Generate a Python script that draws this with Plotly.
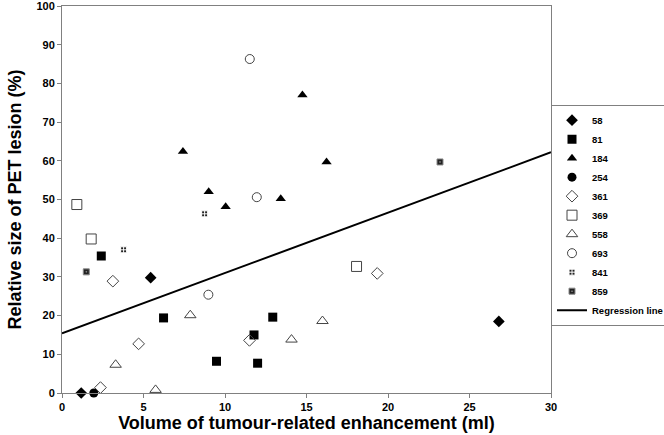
"""Relative size of PET lesion versus volume of tumour-related enhancement."""

import plotly.graph_objects as go

# values (x: ml, y: %)
s58_x = [1.18, 5.44, 26.8]
s58_y = [0.0, 29.8, 18.5]
s81_x = [2.41, 6.23, 9.48, 11.78, 12.0, 12.93]
s81_y = [35.4, 19.4, 8.2, 15.0, 7.7, 19.6]
s184_x = [7.42, 9.0, 10.04, 13.42, 14.75, 16.23]
s184_y = [62.4, 52.0, 48.1, 50.2, 77.0, 59.7]
s254_x = [1.95]
s254_y = [0.0]
s361_x = [2.36, 3.12, 4.70, 11.5, 19.34]
s361_y = [1.4, 28.9, 12.7, 13.6, 30.9]
s369_x = [0.91, 1.79, 18.07]
s369_y = [48.7, 39.8, 32.7]
s558_x = [3.29, 5.74, 7.87, 14.08, 15.98]
s558_y = [7.3, 0.8, 20.1, 13.8, 18.6]
s693_x = [8.98, 11.52, 11.95]
s693_y = [25.4, 86.3, 50.6]
s841_x = [3.78, 8.75]
s841_y = [37.0, 46.3]
s859_x = [1.49, 23.19]
s859_y = [31.3, 59.7]
reg_x = [0, 30]
reg_y = [15.4, 62.2]

BOLD = dict(family="Liberation Sans, Arial", color="black", weight="bold")

series = [
    ("58", s58_x, s58_y, dict(symbol="diamond", size=9, color="black")),
    ("81", s81_x, s81_y, dict(symbol="square", size=9, color="black")),
    ("184", s184_x, s184_y, dict(symbol="triangle-up", size=9, color="black")),
    ("254", s254_x, s254_y, dict(symbol="circle", size=9, color="black")),
    ("361", s361_x, s361_y, dict(symbol="diamond-open", size=9, color="#444",
                                 line=dict(width=1))),
    ("369", s369_x, s369_y, dict(symbol="square-open", size=10, color="#444",
                                 line=dict(width=1))),
    ("558", s558_x, s558_y, dict(symbol="triangle-up-open", size=10, color="#444",
                                 line=dict(width=1))),
    ("693", s693_x, s693_y, dict(symbol="circle-open", size=9, color="#444",
                                 line=dict(width=1))),
    ("841", s841_x, s841_y, dict(symbol="square-cross", size=6, color="#222",
                                 line=dict(width=1, color="white"))),
    ("859", s859_x, s859_y, dict(symbol="square-dot", size=6, color="#222",
                                 line=dict(width=1, color="#888"))),
]

fig = go.Figure()
for name, xs, ys, marker in series:
    fig.add_trace(go.Scatter(x=xs, y=ys, mode="markers", name=name,
                             marker=marker, cliponaxis=False))

fig.add_trace(go.Scatter(x=reg_x, y=reg_y, mode="lines", name="Regression line",
                         line=dict(color="black", width=2)))

axis_common = dict(
    showgrid=False, zeroline=False, showline=True, linecolor="#808080",
    linewidth=1, mirror=True, ticks="outside", ticklen=4, tickcolor="#808080",
    tickfont=dict(size=11, **BOLD), ticklabeloverflow="allow",
)

fig.update_layout(
    width=664, height=435,
    margin=dict(l=62, r=113, t=6, b=42, autoexpand=False),
    paper_bgcolor="white", plot_bgcolor="white",
    xaxis=dict(range=[0, 30], dtick=5,
               title=dict(text="Volume of tumour-related enhancement (ml)",
                          font=dict(size=18, **BOLD), standoff=0),
               **axis_common),
    yaxis=dict(range=[0, 100], dtick=10,
               title=dict(text="Relative size of PET lesion (%)",
                          font=dict(size=18, **BOLD), standoff=10),
               **axis_common),
    legend=dict(x=1.0, y=0.745, xanchor="left", yanchor="top",
                bordercolor="#808080", borderwidth=1, bgcolor="white",
                font=dict(size=9.5, **BOLD), itemwidth=30,
                tracegroupgap=0),
    showlegend=True,
)

fig.write_html("out.html", config={"displayModeBar": False},
               post_script="document.body.style.margin='0';")
